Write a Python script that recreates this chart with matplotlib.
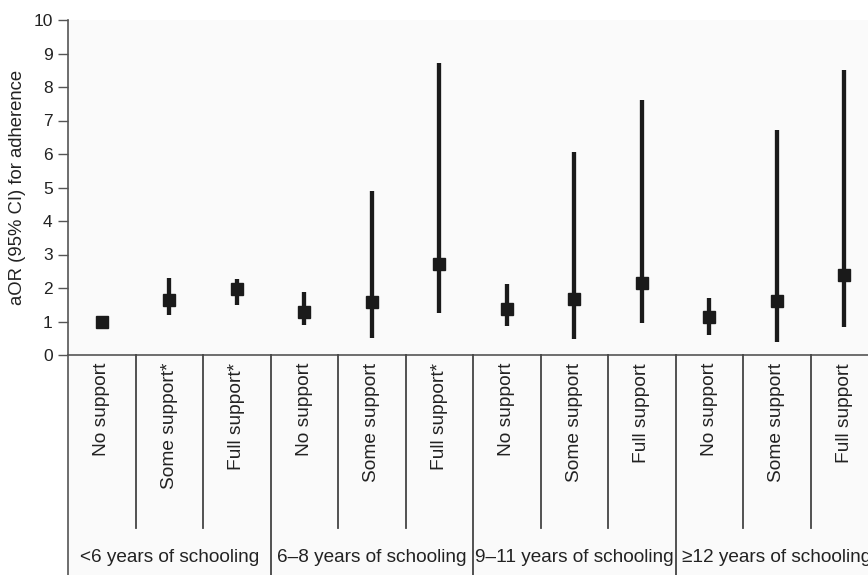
import matplotlib
matplotlib.use("Agg")
import matplotlib.pyplot as plt
from matplotlib.transforms import blended_transform_factory
from matplotlib.lines import Line2D
from matplotlib.patches import Rectangle

plt.rcParams['font.family'] = ['Liberation Sans', 'DejaVu Sans']

categories = ["No support", "Some support*", "Full support*",
              "No support", "Some support", "Full support*",
              "No support", "Some support", "Full support",
              "No support", "Some support", "Full support"]
groups = ["<6 years of schooling", "6\u20138 years of schooling",
          "9\u201311 years of schooling", "\u226512 years of schooling"]
aor = [1.00, 1.64, 1.96, 1.29, 1.59, 2.71, 1.37, 1.67, 2.14, 1.12, 1.61, 2.38]
ci_low = [1.00, 1.20, 1.49, 0.90, 0.50, 1.25, 0.87, 0.47, 0.97, 0.61, 0.38, 0.83]
ci_high = [1.00, 2.31, 2.28, 1.88, 4.90, 8.72, 2.11, 6.06, 7.60, 1.71, 6.73, 8.51]
yticks = list(range(0, 11))

W, H = 868, 575
fig = plt.figure(figsize=(W / 100, H / 100), dpi=100)
fig.patch.set_facecolor('white')

left_px, top_px, bottom_px = 68, 20, 355
cat_w = 67.5
ax = fig.add_axes([left_px / W, (H - bottom_px) / H, cat_w * 12 / W, (bottom_px - top_px) / H])
ax.set_facecolor('#fafafa')
# background for label table area
fig.patches.append(Rectangle((left_px / W, 0), 1, (H - bottom_px) / H,
                             transform=fig.transFigure, facecolor='#fafafa',
                             edgecolor='none', zorder=-10))

x = list(range(len(categories)))
col = '#1a1a1a'
ax.vlines(x, ci_low, ci_high, color=col, linewidth=3.1, zorder=3)
ax.plot(x, aor, linestyle='none', marker='s', markersize=9, color=col, zorder=4)

ax.set_xlim(-0.5, 11.5)
ax.set_ylim(0, 10)
ax.set_yticks(yticks)
ax.set_yticklabels([str(t) for t in yticks], fontsize=12.5, color='#222')
ax.set_xticks([])
ax.tick_params(axis='y', direction='out', length=7, width=1, color='#555', pad=4)
for s in ['top', 'right']:
    ax.spines[s].set_visible(False)
for s in ['left', 'bottom']:
    ax.spines[s].set_color('#555')
    ax.spines[s].set_linewidth(1.2)

fig.text(18 / W, (H - 187) / H, "aOR (95% CI) for adherence", rotation=90,
         ha='center', va='center', fontsize=13.3, color='#222')

tr = blended_transform_factory(ax.transData, fig.transFigure)
# left axis line continues down
fig.lines.append(Line2D([left_px / W, left_px / W], [0, (H - bottom_px) / H],
                        transform=fig.transFigure, color='#555', linewidth=1.2))
for i in range(1, 12):
    ybot = 0 if i % 3 == 0 else (H - 528) / H
    fig.lines.append(Line2D([i - 0.5, i - 0.5], [ybot, (H - bottom_px) / H],
                            transform=tr, color='#444', linewidth=1.3))

for i, lab in enumerate(categories):
    fig.text(i, (H - 363) / H, lab, rotation=90, ha='center', va='top',
             transform=tr, fontsize=13.8, color='#222', zorder=5)

for g, lab in enumerate(groups):
    fig.text(3 * g + 1, (H - 558) / H, lab, ha='center', va='center',
             transform=tr, fontsize=13.7, color='#222', zorder=5)

fig.savefig("out.png", dpi=100)
